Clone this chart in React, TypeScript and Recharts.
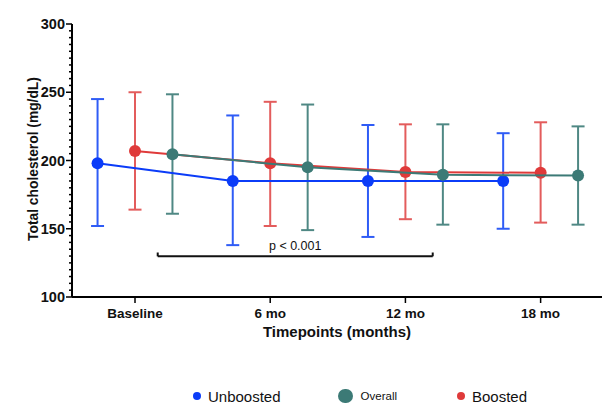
import React from 'react';
import {
  ScatterChart,
  Scatter,
  XAxis,
  YAxis,
  ErrorBar,
  ReferenceLine,
} from 'recharts';

const categories = ['Baseline', '6 mo', '12 mo', '18 mo'];
const seriesOffset = 0.277;

// mean, lower, upper per timepoint
const unboostedMean = [198, 185, 185, 185];
const unboostedLow = [152, 138, 144, 150];
const unboostedHigh = [245, 233, 226, 220];

const boostedMean = [207, 198, 191.5, 191];
const boostedLow = [164, 152, 157, 154.5];
const boostedHigh = [250, 243, 226.5, 228];

const overallMean = [204.5, 195, 189.5, 189];
const overallLow = [161, 149, 153, 153];
const overallHigh = [248.5, 241, 226.5, 225];

const majorTicks = [100, 150, 200, 250, 300];
const minorStep = 5;

const bracketStart = 0.168;
const bracketEnd = 2.202;
const bracketY = 129.8;
const bracketTickTop = 132.6;
const pLabel = 'p < 0.001';

const BLUE = '#0b3cf8';
const BLUE_BAR = '#2f5cf6';
const RED = '#df3a3a';
const RED_BAR = '#e35c5c';
const TEAL = '#3c7a76';
const TEAL_BAR = '#4f8884';

const FONT = 'Arial, "Liberation Sans", Helvetica, sans-serif';

function build(mean: number[], low: number[], high: number[], offset: number) {
  return mean.map((m, i) => ({
    x: i + offset,
    y: m,
    err: [m - low[i], high[i] - m],
  }));
}

const unboostedData = build(unboostedMean, unboostedLow, unboostedHigh, -seriesOffset);
const boostedData = build(boostedMean, boostedLow, boostedHigh, 0);
const overallData = build(overallMean, overallLow, overallHigh, seriesOffset);

const yTicks: number[] = [];
for (let i = 0; i < majorTicks.length - 1; i++) {
  for (let v = majorTicks[i]; v < majorTicks[i + 1]; v += minorStep) yTicks.push(v);
}
yTicks.push(majorTicks[majorTicks.length - 1]);

const TICK_SIZE = 6;
const TICK_MARGIN = 1;

const YTick = (props: any) => {
  const { x, y, payload } = props;
  const v = payload.value;
  const axisX = x + TICK_SIZE + TICK_MARGIN;
  const major = majorTicks.includes(v);
  const len = major ? 6 : 3;
  return (
    <g>
      <line x1={axisX - len} x2={axisX} y1={y} y2={y} stroke="#000" strokeWidth={1.5} />
      {major && (
        <text
          x={x}
          y={y}
          dy="0.36em"
          textAnchor="end"
          fontFamily={FONT}
          fontWeight="bold"
          fontSize={14.5}
          fill="#111"
        >
          {v}
        </text>
      )}
    </g>
  );
};

const dot = (color: string) => (p: any) => (
  <circle cx={p.cx} cy={p.cy} r={6} fill={color} />
);

const YLabel = (props: any) => {
  const vb = props.viewBox || {};
  const cx = 33;
  const cy = (vb.y ?? 24) + (vb.height ?? 273) / 2 - 1.5;
  return (
    <text
      x={cx}
      y={cy}
      transform={`rotate(-90 ${cx} ${cy})`}
      textAnchor="middle"
      dominantBaseline="central"
      fontFamily={FONT}
      fontWeight="bold"
      fontSize={13.8}
      fill="#111"
    >
      Total cholesterol (mg/dL)
    </text>
  );
};

const legendItems = [
  { label: 'Unboosted', color: BLUE, r: 4, fontSize: 15, left: 193 },
  { label: 'Overall', color: TEAL, r: 7.3, fontSize: 11.5, left: 338 },
  { label: 'Boosted', color: RED, r: 4, fontSize: 15, left: 457 },
];

export default function App() {
  return (
    <div style={{ position: 'absolute', left: 0, top: 0, width: 614, height: 405, background: '#fff', overflow: 'hidden' }}>
      <ScatterChart
        width={614}
        height={405}
        margin={{ top: 24, right: 12, bottom: 58, left: 0 }}
      >
        <XAxis
          type="number"
          dataKey="x"
          domain={[-0.466, 3.454]}
          ticks={[0, 1, 2, 3]}
          interval={0}
          allowDataOverflow
          tickFormatter={(v: number) => categories[v] ?? ''}
          height={50}
          tickSize={6}
          tickMargin={5}
          axisLine={{ stroke: '#000', strokeWidth: 2 }}
          tickLine={{ stroke: '#000', strokeWidth: 1.5 }}
          tick={{ fontFamily: FONT, fontWeight: 'bold', fontSize: 13.5, fill: '#111' }}
          label={{
            value: 'Timepoints (months)',
            position: 'insideBottom',
            offset: 10,
            style: { fontFamily: FONT, fontWeight: 'bold', fontSize: 15, fill: '#111' },
          }}
        />
        <YAxis
          type="number"
          dataKey="y"
          domain={[100, 300]}
          ticks={yTicks}
          interval={0}
          width={72}
          tickSize={TICK_SIZE}
          tickMargin={TICK_MARGIN}
          tickLine={false}
          axisLine={{ stroke: '#000', strokeWidth: 2 }}
          tick={<YTick />}
          label={<YLabel />}
        />
        <ReferenceLine
          segment={[{ x: bracketStart, y: bracketY }, { x: bracketEnd, y: bracketY }]}
          stroke="#111"
          strokeWidth={2}
          ifOverflow="visible"
          label={{
            value: pLabel,
            position: 'top',
            offset: 6,
            style: { fontFamily: FONT, fontSize: 12.5, fill: '#111' },
          }}
        />
        <ReferenceLine
          segment={[{ x: bracketStart, y: bracketY }, { x: bracketStart, y: bracketTickTop }]}
          stroke="#111"
          strokeWidth={2}
          ifOverflow="visible"
        />
        <ReferenceLine
          segment={[{ x: bracketEnd, y: bracketY }, { x: bracketEnd, y: bracketTickTop }]}
          stroke="#111"
          strokeWidth={2}
          ifOverflow="visible"
        />
        <Scatter
          name="Unboosted"
          data={unboostedData}
          line={{ stroke: BLUE, strokeWidth: 2 }}
          lineType="joint"
          shape={dot(BLUE)}
          isAnimationActive={false}
        >
          <ErrorBar dataKey="err" direction="y" width={6.5} stroke={BLUE_BAR} strokeWidth={2} />
        </Scatter>
        <Scatter
          name="Boosted"
          data={boostedData}
          line={{ stroke: RED, strokeWidth: 2 }}
          lineType="joint"
          shape={dot(RED)}
          isAnimationActive={false}
        >
          <ErrorBar dataKey="err" direction="y" width={6.5} stroke={RED_BAR} strokeWidth={2} />
        </Scatter>
        <Scatter
          name="Overall"
          data={overallData}
          line={{ stroke: TEAL, strokeWidth: 2 }}
          lineType="joint"
          shape={dot(TEAL)}
          isAnimationActive={false}
        >
          <ErrorBar dataKey="err" direction="y" width={6.5} stroke={TEAL_BAR} strokeWidth={2} />
        </Scatter>
      </ScatterChart>
      {legendItems.map((it) => (
        <div
          key={it.label}
          style={{
            position: 'absolute',
            left: it.left,
            top: 387,
            height: 18,
            display: 'flex',
            alignItems: 'center',
            fontFamily: FONT,
            fontSize: it.fontSize,
            color: '#111',
            whiteSpace: 'nowrap',
          }}
        >
          <span
            style={{
              display: 'inline-block',
              width: it.r * 2,
              height: it.r * 2,
              borderRadius: '50%',
              background: it.color,
              marginRight: it.r > 5 ? 8 : 7,
            }}
          />
          <span>{it.label}</span>
        </div>
      ))}
    </div>
  );
}
